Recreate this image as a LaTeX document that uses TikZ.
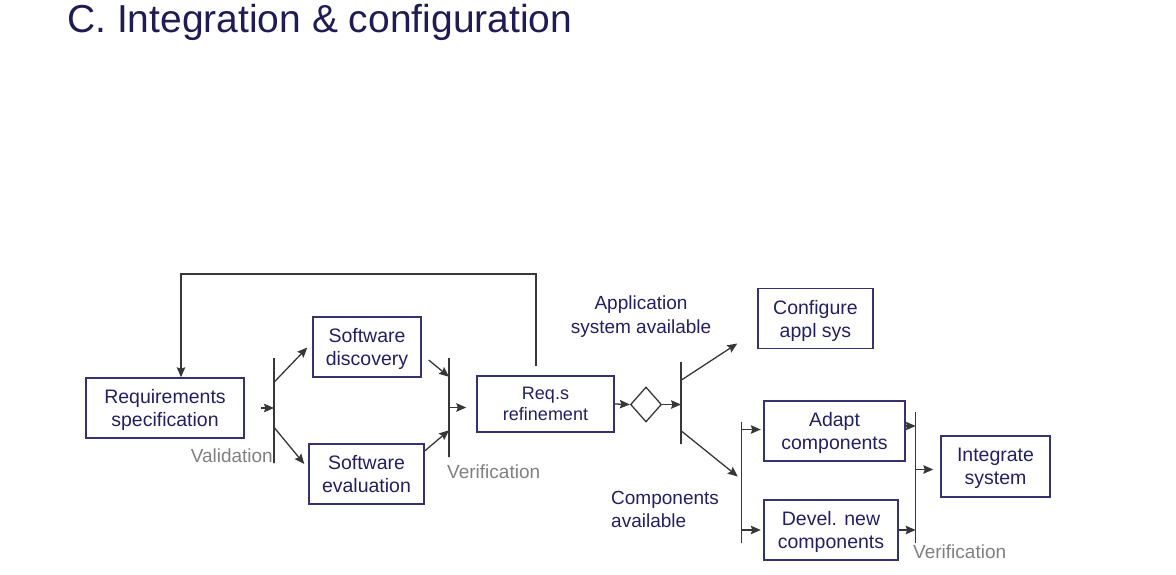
\documentclass[tikz,border=0pt]{standalone}
\usepackage{fontspec}
\setmainfont{Liberation Sans}
\usetikzlibrary{arrows.meta,shapes.geometric,calc}
\definecolor{titlenavy}{RGB}{30,28,82}
\definecolor{textnavy}{RGB}{34,32,96}
\definecolor{boxline}{RGB}{52,50,112}
\definecolor{lineg}{RGB}{55,55,55}
\definecolor{labelg}{RGB}{128,128,128}
\begin{document}
\begin{tikzpicture}[x=1pt,y=-1pt,
  box/.style={draw=boxline,line width=1.4pt,rectangle,inner sep=0pt,align=center,
    text depth=0pt,text=textnavy,font=\fontsize{19.5}{23}\selectfont},
  bar/.style={draw=lineg,line width=1.4pt,rectangle,minimum width=0pt,inner sep=0pt},
  arr/.style={draw=lineg,line width=1.3pt,-{Stealth[length=10pt,width=8.5pt,inset=1.5pt]}},
  lbl/.style={text=labelg,font=\fontsize{19}{23}\selectfont,inner sep=0pt},
  cond/.style={text=textnavy,font=\fontsize{19}{23.5}\selectfont,inner sep=0pt},
]
\useasboundingbox (0,0) rectangle (1176,575);

% heading
\node[anchor=base west,inner sep=0pt,text=titlenavy,font=\fontsize{39}{46}\selectfont]
  (title) at (67,33) {C. Integration \& configuration};

% activities
\node[box,minimum width=158pt,minimum height=60pt] (req) at (165,408) {Requirements\\specification};
\node[box,minimum width=108pt,minimum height=60pt] (disc) at (367,347) {Software\\discovery};
\node[box,minimum width=115pt,minimum height=60pt] (eval) at (366.5,474) {Software\\evaluation};
\node[box,minimum width=137pt,minimum height=56pt,font=\fontsize{18}{21.6}\selectfont] (refine) at (545.5,404) {Req.s\\refinement};
\node[box,minimum width=115pt,minimum height=60pt] (config) at (815.5,318.5) {Configure\\appl sys};
\node[box,minimum width=141pt,minimum height=60pt] (adapt) at (834.5,431) {Adapt\\components};
\node[box,minimum width=134pt,minimum height=60pt] (devel) at (831,530) {Devel. new\\components};
\node[box,minimum width=109pt,minimum height=61pt] (integ) at (995.5,466.5) {Integrate\\system};

% decision
\node[diamond,draw=lineg,line width=1.3pt,minimum width=31pt,minimum height=35pt,inner sep=0pt] (dec) at (646,404.5) {};

% fork / join bars
\node[bar,minimum height=105pt] (vbar) at (274,410.5) {};
\node[bar,minimum height=99pt] (ver1) at (449,407.5) {};
\node[bar,minimum height=82pt] (sbar) at (681,403) {};
\node[bar,minimum height=121pt] (cbar) at (741.5,482.5) {};
\node[bar,minimum height=131pt] (ver2) at (915.7,477.5) {};

% labels
\node[lbl,anchor=base east] (vlab) at (273,462) {Validation};
\node[lbl,anchor=base west] (ver1lab) at (447,478) {Verification};
\node[lbl,anchor=base west] (ver2lab) at (913,558) {Verification};
\node[cond,align=center] (appl) at (641,316.5) {Application\\system available};
\node[cond,align=left,anchor=west] (comp) at (611,509.5) {Components\\available};

% connection points on the box sides
\coordinate (adaptin) at ($(adapt.west)+(0,-1.5)$);
\coordinate (adaptout) at ($(adapt.east)+(0,-5)$);
\coordinate (integin) at ($(integ.west)+(0,3)$);

% validation fork
\draw[arr,shorten <=16pt] (req.east) -- (req.east -| vbar);
\draw[arr] ($(vbar.north)+(0,25)$) -- ($(disc.west)+(-5,0.5)$);
\draw[arr] ($(vbar.north)+(0,70)$) -- ($(eval.west)+(-4,-10)$);

% verification join
\draw[arr] ($(disc.east)+(7,13)$) -- ($(ver1.north)+(0,19.5)$);
\draw[arr] ($(eval.east)+(0,-23)$) -- ($(ver1.north)+(0,73)$);
\draw[arr,shorten >=10pt] (ver1.center) -- (ver1.center -| refine.west);

% feedback loop
\coordinate (looptop) at (358,274);
\draw[arr,shorten <=9pt] ([xshift=-9.5pt]refine.north) |- (looptop) -| ([xshift=16pt]req.north);

% selection
\draw[arr] (refine.east) -- (dec.west);
\draw[arr] (dec.east) -- (dec.east -| sbar);
\draw[arr] ($(sbar.north)+(0,19)$) -- ($(config.west)+(-20,25)$);
\draw[arr] ($(sbar.south)+(0,-14)$) -- ($(cbar.west)+(-3,-6)$);

% component branch
\draw[arr,shorten >=2.5pt] (adaptin -| cbar) -- (adaptin);
\draw[arr,shorten >=2.5pt] (devel.west -| cbar) -- (devel.west);
\draw[arr] (adaptout) -- (adaptout -| ver2);
\draw[arr] (devel.east) -- (devel.east -| ver2);
\draw[arr,shorten >=7pt] (integin -| ver2) -- (integin);
\end{tikzpicture}
\end{document}
